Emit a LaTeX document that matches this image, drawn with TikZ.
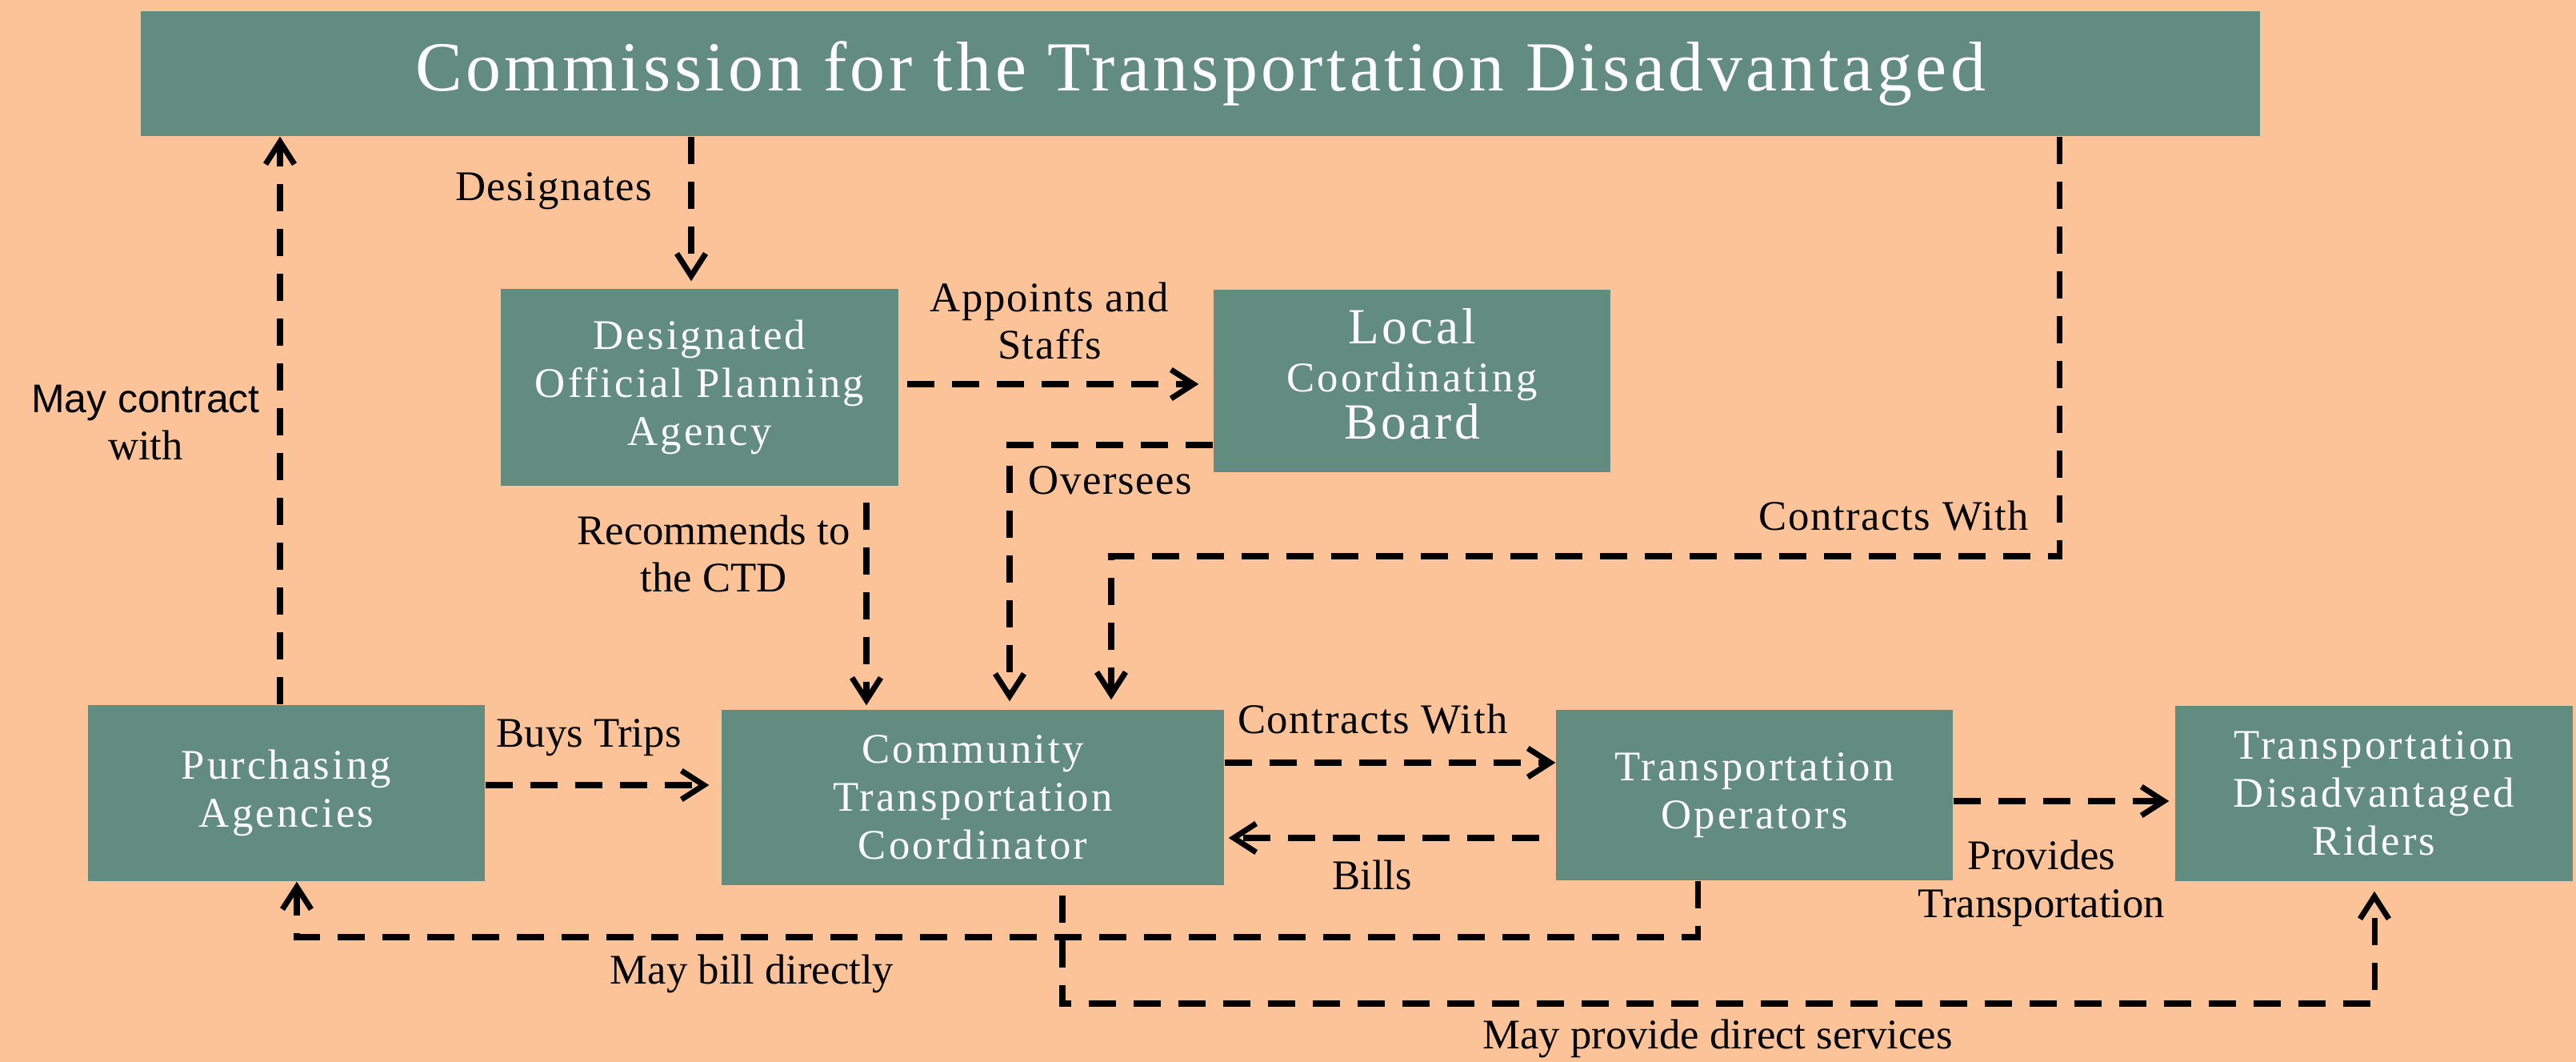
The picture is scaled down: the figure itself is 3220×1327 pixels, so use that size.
\documentclass[tikz,border=0pt]{standalone}
\usepackage{fontspec}
\setmainfont{Liberation Serif}
\newfontfamily\boxfont{Liberation Serif}[LetterSpace=6]
\newfontfamily\titlefont{Liberation Serif}[LetterSpace=5]
\newfontfamily\spacedfont{Liberation Serif}[LetterSpace=3]
\newfontfamily\plainsans{Liberation Sans}
\usetikzlibrary{arrows.meta}

\definecolor{bgpeach}{HTML}{FDC398}
\definecolor{boxteal}{HTML}{628C80}

\begin{document}
\begin{tikzpicture}[x=0.1mm,y=-0.1mm,
  box/.style={fill=boxteal, draw=none, text=white, align=center, inner sep=0pt,
              font=\boxfont\fontsize{15}{17}\selectfont},
  flow/.style={line width=2pt, dash pattern=on 3.4mm off 2.2mm,
               -{Straight Barb[length=2.8mm,width=3.6mm]}},
  lbl/.style={align=center, inner sep=0pt, font=\fontsize{15}{17}\selectfont},
  lbls/.style={align=center, inner sep=0pt, font=\spacedfont\fontsize{15}{17}\selectfont}
]
% page and background
\fill[bgpeach] (0,0) rectangle (3220,1327);
\useasboundingbox (0,0) rectangle (3220,1327);

% boxes
\node[box, minimum width=264.9mm, minimum height=15.6mm,
      font=\titlefont\fontsize{25}{30}\selectfont] (cmd) at (1500.5,92)
      {Commission for the Transportation Disadvantaged};
\node[box, minimum width=49.7mm, minimum height=24.6mm] (dopa) at (874.5,484)
      {Designated\\Official Planning\\Agency};
\node[box, minimum width=49.6mm, minimum height=22.8mm] (lcb) at (1765,476)
      {{\fontsize{18}{20}\selectfont Local}\\Coordinating\\{\fontsize{18}{20}\selectfont Board}\\[-12pt]};
\node[box, minimum width=49.6mm, minimum height=22mm] (pa) at (358,991)
      {Purchasing\\Agencies};
\node[box, minimum width=62.8mm, minimum height=21.9mm] (ctc) at (1216,996.5)
      {Community\\Transportation\\Coordinator};
\node[box, minimum width=49.6mm, minimum height=21.3mm] (to) at (2193,993.5)
      {Transportation\\Operators};
\node[box, minimum width=49.7mm, minimum height=21.9mm] (tdr) at (2967.5,991.5)
      {Transportation\\Disadvantaged\\Riders};

% routing guides
\coordinate (xdes) at (864,0);
\coordinate (xmc) at (350,0);
\coordinate (yapp) at (0,480);
\coordinate (yov) at (0,556);
\coordinate (xov) at (1262,0);
\coordinate (xrec) at (1083,0);
\coordinate (cwA) at (2574,695);
\coordinate (cwB) at (1389,695);
\coordinate (ybt) at (0,981);
\coordinate (ycw) at (0,953);
\coordinate (ybill) at (0,1047);
\coordinate (yprov) at (0,1001);
\coordinate (mbA) at (2122,1171);
\coordinate (mbB) at (371,1171);
\coordinate (mpA) at (1328,1254);
\coordinate (mpB) at (2968,1254);

% connectors
\draw[flow, shorten >=0.9mm] (cmd.south -| xdes) -- (dopa.north -| xdes);
\draw[flow] (pa.north -| xmc) -- (cmd.south -| xmc);
\draw[flow, shorten <=1mm, shorten >=1.8mm] (dopa.east |- yapp) -- (lcb.west |- yapp);
\draw[flow, shorten >=1mm] (lcb.west |- yov) -| (ctc.north -| xov);
\draw[flow, shorten <=2mm, shorten >=0.5mm] (dopa.south -| xrec) -- (ctc.north -| xrec);
\draw[flow, shorten >=1.2mm] (cmd.south -| cwA) -- (cwA) -- (cwB) -- (ctc.north -| cwB);
\draw[flow, shorten >=1.5mm] (pa.east |- ybt) -- (ctc.west |- ybt);
\draw[flow] (ctc.east |- ycw) -- (to.west |- ycw);
\draw[flow, shorten <=2mm, shorten >=0.5mm] (to.west |- ybill) -- (ctc.east |- ybill);
\draw[flow, shorten >=0.7mm] (to.east |- yprov) -- (tdr.west |- yprov);
\draw[flow] (to.south -| mbA) -- (mbA) -- (mbB) -- (pa.south -| mbB);
\draw[flow, shorten <=1.2mm, shorten >=1.2mm] (ctc.south -| mpA) -- (mpA) -- (mpB) -- (tdr.south -| mpB);

% connector labels
\node[lbls] (lDes) at (692,239) {Designates};
\node[lbl] (lMay) at (182,528) {{\plainsans\fontsize{14.2}{17}\selectfont May contract}\\with};
\node[lbls] (lApp) at (1312,401) {Appoints and\\Staffs};
\node[lbls] (lOv) at (1388,600) {Oversees};
\node[lbl] (lRec) at (892,692) {Recommends to\\the CTD};
\node[lbls, anchor=east] (lCw1) at (2537,645) {Contracts With};
\node[lbl] (lBuy) at (736,922) {Buys Trips};
\node[lbls] (lCw2) at (1716,899) {Contracts With};
\node[lbl] (lBill) at (1715,1093) {Bills};
\node[lbl] (lProv) at (2552,1104) {Provides\\Transportation};
\node[lbl] (lMb) at (940,1217) {May bill directly};
\node[lbl] (lMp) at (2147,1298) {May provide direct services};
\end{tikzpicture}
\end{document}
